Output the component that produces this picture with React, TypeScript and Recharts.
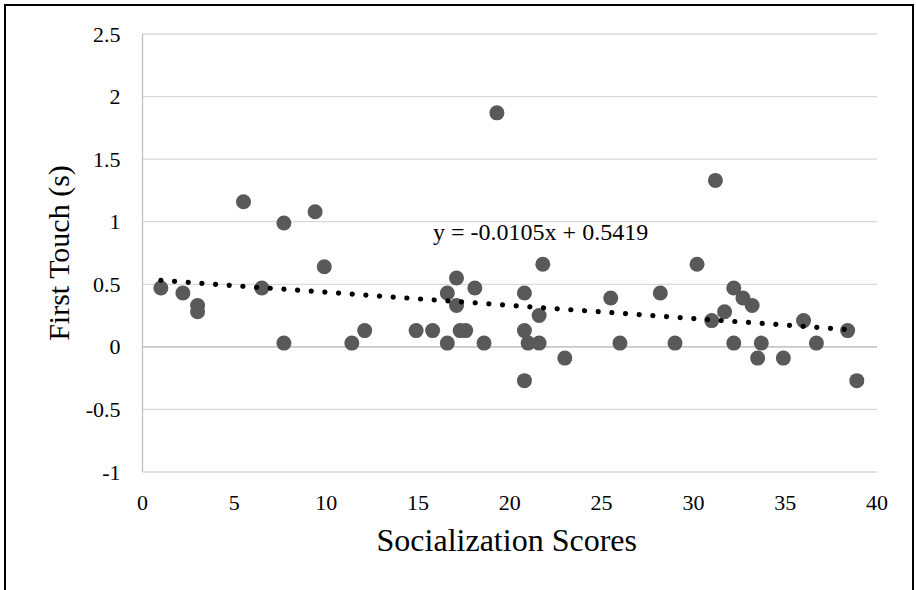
import { ComposedChart, Scatter, XAxis, YAxis, CartesianGrid, ReferenceLine, ReferenceDot, Label } from "recharts"

// Socialization score vs first touch time
const scores = [
  1, 2.2, 3, 3, 5.5, 6.5, 7.7, 7.7, 9.4, 9.9, 11.4, 12.1,
  14.9, 15.8, 16.6, 16.6, 17.1, 17.1, 17.3, 17.6, 18.1, 18.6, 19.3,
  20.8, 20.8, 20.8, 21.0, 21.6, 21.6, 21.8, 23.0, 25.5, 26.0,
  28.2, 29.0, 30.2, 31.0, 31.2, 31.7, 32.2, 32.2, 32.7, 33.2, 33.5, 33.7,
  34.9, 36.0, 36.7, 38.4, 38.9,
]
const firstTouch = [
  0.47, 0.43, 0.33, 0.28, 1.16, 0.47, 0.99, 0.03, 1.08, 0.64, 0.03, 0.13,
  0.13, 0.13, 0.03, 0.43, 0.55, 0.33, 0.13, 0.13, 0.47, 0.03, 1.87,
  0.43, 0.13, -0.27, 0.03, 0.03, 0.25, 0.66, -0.09, 0.39, 0.03,
  0.43, 0.03, 0.66, 0.21, 1.33, 0.28, 0.47, 0.03, 0.39, 0.33, -0.09, 0.03,
  -0.09, 0.21, 0.03, 0.13, -0.27,
]

// linear trendline endpoints (y = -0.0105x + 0.5419)
const trendX = [1, 38.9]
const trendY = [0.531, 0.133]
const trendLabel = "y = -0.0105x + 0.5419"

const xTicks = [0, 5, 10, 15, 20, 25, 30, 35, 40]
const yTicks = [-1, -0.5, 0, 0.5, 1, 1.5, 2, 2.5]

const points = scores.map((x, i) => ({ x, y: firstTouch[i] }))
const trend = trendX.map((x, i) => ({ x, y: trendY[i] }))

const font = "Liberation Serif, Times New Roman, serif"
const textStyle = { fontFamily: font, fill: "#000" }

const Dot = (props: any) => <circle cx={props.cx} cy={props.cy} r={7.5} fill="#595959" />

const XTick = (props: any) => (
  <text x={props.x} y={props.y} textAnchor="middle" dominantBaseline="central" style={{ ...textStyle, fontSize: 22 }}>
    {props.payload.value}
  </text>
)

const YTick = (props: any) => (
  <text x={props.x} y={props.y} textAnchor="end" dominantBaseline="central" style={{ ...textStyle, fontSize: 22 }}>
    {props.payload.value}
  </text>
)

export default function App() {
  return (
    <div style={{ position: "relative", width: 916, height: 590, overflow: "hidden", fontFamily: font }}>
      <style>{"body{margin:0}"}</style>
      <div
        style={{
          position: "absolute",
          left: 4,
          top: 4,
          width: 906,
          height: 620,
          border: "2px solid #000",
        }}
      />
      <ComposedChart
        width={916}
        height={590}
        margin={{ top: 34, right: 39, left: 0, bottom: 0 }}
        style={{ fontFamily: font }}
      >
        <CartesianGrid horizontal vertical={false} stroke="#d9d9d9" strokeWidth={1.3} />
        <XAxis
          type="number"
          dataKey="x"
          domain={[0, 40]}
          ticks={xTicks}
          axisLine={false}
          tickLine={false}
          tickSize={0}
          tickMargin={30}
          height={118}
          tick={<XTick />}
        >
          <Label
            content={(p: any) => {
              const vb = p.viewBox
              return (
                <text
                  x={vb.x + vb.width / 2 - 3}
                  y={vb.y + 68}
                  textAnchor="middle"
                  dominantBaseline="central"
                  style={{ ...textStyle, fontSize: 32 }}
                >
                  Socialization Scores
                </text>
              )
            }}
          />
        </XAxis>
        <YAxis
          type="number"
          dataKey="y"
          domain={[-1, 2.5]}
          ticks={yTicks}
          width={142.5}
          axisLine={{ stroke: "#bfbfbf", strokeWidth: 1.3 }}
          tickLine={false}
          tickSize={0}
          tickMargin={22}
          tick={<YTick />}
        >
          <Label
            content={(p: any) => {
              const vb = p.viewBox
              const cx = 58
              const cy = vb.y + vb.height / 2
              return (
                <text
                  x={cx}
                  y={cy}
                  transform={`rotate(-90 ${cx} ${cy})`}
                  textAnchor="middle"
                  dominantBaseline="central"
                  style={{ ...textStyle, fontSize: 30 }}
                >
                  First Touch (s)
                </text>
              )
            }}
          />
        </YAxis>
        <ReferenceLine y={0} stroke="#bfbfbf" strokeWidth={1.3} />
        <Scatter data={points} shape={Dot} isAnimationActive={false} />
        <Scatter
          data={trend}
          shape={() => <g />}
          line={{ stroke: "#000", strokeWidth: 5.2, strokeDasharray: "0.1 13.6", strokeLinecap: "round" }}
          isAnimationActive={false}
        />
        <ReferenceDot
          x={21.68}
          y={0.919}
          r={0}
          label={{ value: trendLabel, position: "center", style: { ...textStyle, fontSize: 24 } }}
        />
      </ComposedChart>
    </div>
  )
}
